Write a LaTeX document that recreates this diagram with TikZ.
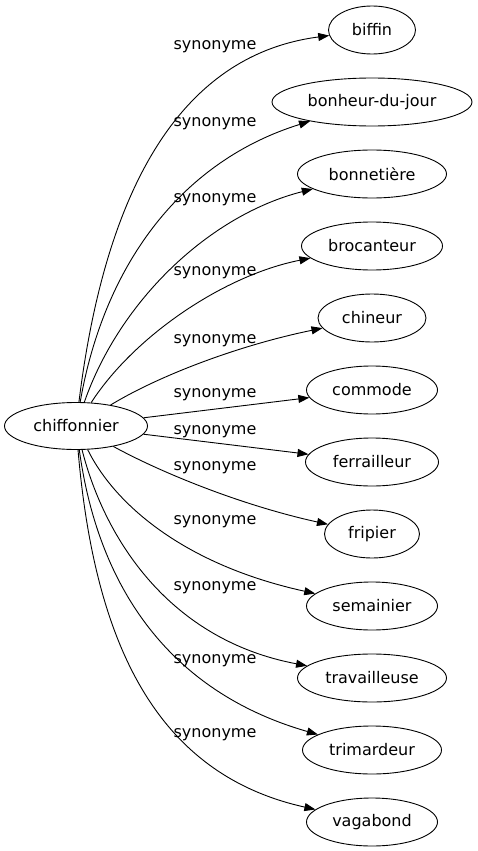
\documentclass[tikz,border=0pt]{standalone}
\usepackage{fontspec}
\setmainfont{DejaVu Sans}
\usetikzlibrary{arrows.meta, shapes.geometric}

\begin{document}
\begin{tikzpicture}[
    x=1pt, y=-1pt,
    every node/.style={font=\fontsize{16}{19}\selectfont},
    word/.style={draw, ellipse, line width=0.9pt, inner sep=0pt, minimum height=48},
    rel/.style={inner sep=0pt},
    link/.style={line width=0.9pt, -{Triangle[length=11pt, width=8pt]}},
]
\useasboundingbox (0,0) rectangle (477,851);

% ---------------------------------------------------------------- words
\node[word, minimum width=143, minimum height=47] (chif) at (76,426) {chiffonnier};

\foreach \name/\txt/\w [count=\i from 0] in {
    biffin/biffin/87, bonheur/bonheur-du-jour/200, bonnet/bonnetière/149,
    brocant/brocanteur/141, chineur/chineur/108, commode/commode/131,
    ferrail/ferrailleur/133, fripier/fripier/95, semain/semainier/131,
    travail/travailleuse/149, trimard/trimardeur/139, vagab/vagabond/131}{
    \node[word, minimum width=\w] (\name) at (372, 30+72*\i) {\txt};
}

% ---------------------------------------------------------------- labels
\foreach \y [count=\k] in {47,124,200,273,341,395,432,468,522,588,661,735}{
    \node[rel] (syn\k) at (215,\y) {synonyme};
}

% ---------------------------------------------------------------- links
\draw[link] (chif) .. controls (105,190) and (180,55) .. (biffin);
\draw[link] (chif) .. controls (105,260) and (185,160) .. (bonheur);
\draw[link] (chif) .. controls (120,300) and (210,215) .. (bonnet);
\draw[link] (chif) .. controls (135,335) and (225,275) .. (brocant);
\draw[link] (chif) .. controls (160,375) and (240,345) .. (chineur);
\draw[link] (chif) -- (commode);
\draw[link] (chif) -- (ferrail);
\draw[link] (chif) .. controls (160,472) and (240,505) .. (fripier);
\draw[link] (chif) .. controls (115,505) and (185,565) .. (semain);
\draw[link] (chif) .. controls (105,540) and (170,640) .. (travail);
\draw[link] (chif) .. controls (100,600) and (180,695) .. (trimard);
\draw[link] (chif) .. controls (95,650) and (160,775) .. (vagab);

\end{tikzpicture}
\end{document}
